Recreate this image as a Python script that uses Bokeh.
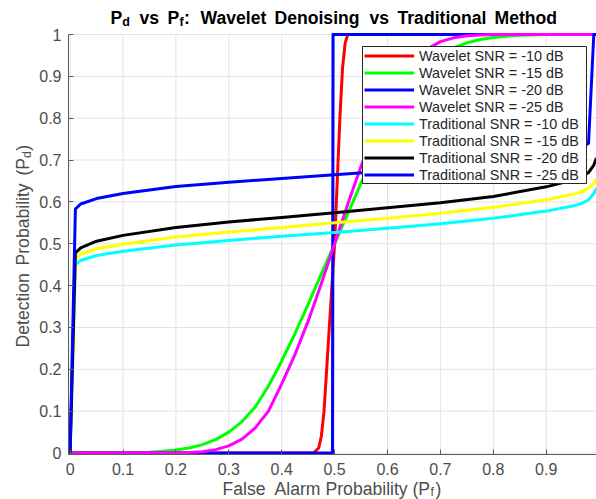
import math
from bokeh.plotting import figure
from bokeh.models import Label, Legend, LegendItem, FixedTicker, Range1d, BoxAnnotation
from bokeh.embed import file_html
from bokeh.resources import INLINE

# ---------------- data ----------------
# Wavelet SNR = -10 dB (red)
pf_w10 = [0, 0.46, 0.47, 0.475, 0.48, 0.485, 0.49, 0.5, 0.505, 0.51, 0.515, 0.52, 0.525, 1.0]
pd_w10 = [0, 0, 0.012, 0.04, 0.1, 0.2, 0.3, 0.5, 0.65, 0.8, 0.92, 0.98, 1.0, 1.0]

# Wavelet SNR = -15 dB (green)
pf_w15 = [0, 0.1, 0.125, 0.15, 0.175, 0.2, 0.225, 0.25, 0.275, 0.3, 0.325, 0.35, 0.375, 0.4,
          0.425, 0.45, 0.475, 0.5, 0.525, 0.55, 0.575, 0.6, 0.625, 0.65, 0.675, 0.7, 0.725,
          0.75, 0.775, 0.8, 0.825, 0.85, 0.9, 1.0]
pd_w15 = [0, 0.0003, 0.001, 0.002, 0.004, 0.007, 0.012, 0.02, 0.032, 0.05, 0.075, 0.11, 0.16, 0.22,
          0.285, 0.355, 0.428, 0.5, 0.572, 0.645, 0.715, 0.78, 0.84, 0.89, 0.925, 0.95, 0.968,
          0.98, 0.988, 0.993, 0.996, 0.998, 1.0, 1.0]

# Wavelet SNR = -20 dB (blue, step)
pf_w20 = [0, 0.496, 0.497, 1.0]
pd_w20 = [0, 0, 1.0, 1.0]

# Wavelet SNR = -25 dB (magenta)
pf_w25 = [0, 0.2, 0.225, 0.25, 0.275, 0.3, 0.325, 0.35, 0.375, 0.4, 0.425, 0.45, 0.475, 0.5,
          0.525, 0.55, 0.575, 0.6, 0.625, 0.65, 0.675, 0.7, 0.725, 0.75, 0.775, 0.8, 1.0]
pd_w25 = [0, 0.0003, 0.001, 0.003, 0.008, 0.017, 0.033, 0.06, 0.1, 0.165, 0.235, 0.315, 0.405, 0.5,
          0.595, 0.685, 0.765, 0.835, 0.893, 0.935, 0.965, 0.983, 0.992, 0.997, 0.999, 1.0, 1.0]

# Traditional method, common Pf grid
pf_trad = [0, 0.01, 0.02, 0.05, 0.1, 0.2, 0.3, 0.4, 0.5, 0.6, 0.7, 0.8, 0.9, 0.95, 0.97, 0.98, 0.99, 0.995]
pd_t10 = [0, 0.45, 0.46, 0.472, 0.482, 0.497, 0.508, 0.518, 0.527, 0.537, 0.548, 0.561, 0.578, 0.59, 0.598, 0.605, 0.62, 0.632]
pd_t15 = [0, 0.465, 0.475, 0.488, 0.499, 0.516, 0.528, 0.539, 0.55, 0.561, 0.573, 0.587, 0.605, 0.618, 0.626, 0.633, 0.645, 0.655]
pd_t20 = [0, 0.478, 0.49, 0.506, 0.52, 0.539, 0.552, 0.563, 0.574, 0.586, 0.598, 0.613, 0.636, 0.652, 0.662, 0.67, 0.688, 0.705]
pd_t25 = [0, 0.583, 0.595, 0.608, 0.62, 0.637, 0.647, 0.656, 0.665, 0.674, 0.684, 0.696, 0.712, 0.724, 0.732, 0.74, 1.0, 1.0]

series_labels = ["Wavelet SNR = -10 dB", "Wavelet SNR = -15 dB", "Wavelet SNR = -20 dB",
                 "Wavelet SNR = -25 dB", "Traditional SNR = -10 dB", "Traditional SNR = -15 dB",
                 "Traditional SNR = -20 dB", "Traditional SNR = -25 dB"]
series_colors = ["#ff0000", "#00ff00", "#0000ff", "#ff00ff", "#00ffff", "#ffff00", "#000000", "#0000ff"]

x_ticks = [0, 0.1, 0.2, 0.3, 0.4, 0.5, 0.6, 0.7, 0.8, 0.9, 1.0]
x_tick_labels = ["0", "0.1", "0.2", "0.3", "0.4", "0.5", "0.6", "0.7", "0.8", "0.9", "1"]
y_ticks = [0, 0.1, 0.2, 0.3, 0.4, 0.5, 0.6, 0.7, 0.8, 0.9, 1.0]
y_tick_labels = ["0", "0.1", "0.2", "0.3", "0.4", "0.5", "0.6", "0.7", "0.8", "0.9", "1"]

# ---------------- figure: frame covers the whole canvas ----------------
W, H = 596, 499
CX0, SX = 69.6, 529.0      # canvas x of Pf=0, pixels per unit
CY0, SY = 452.5, 418.5     # canvas y (from top) of Pd=0, pixels per unit
x_start = -CX0 / SX
x_end = (W - CX0) / SX
y_start = -(H - CY0) / SY
y_end = CY0 / SY

p = figure(width=W, height=H, output_backend="svg", toolbar_location=None, title=None,
           x_range=Range1d(x_start, x_end), y_range=Range1d(y_start, y_end), min_border=0)
p.outline_line_color = None
p.background_fill_color = "white"
p.border_fill_color = "white"

FONT = "Liberation Sans"
AX_COL = "#5a5a5a"
TXT_COL = "#4d4d4d"
AX_LOC = -0.003

for ax, ticks, labels in ((p.xaxis[0], x_ticks, x_tick_labels), (p.yaxis[0], y_ticks, y_tick_labels)):
    ax.ticker = FixedTicker(ticks=ticks)
    ax.major_label_overrides = {t: l for t, l in zip(ticks, labels)}
    ax.fixed_location = AX_LOC
    ax.bounds = (AX_LOC, 1.0)
    ax.major_tick_in = 5
    ax.major_tick_out = 0
    ax.minor_tick_in = 0
    ax.minor_tick_out = 0
    ax.axis_line_color = AX_COL
    ax.major_tick_line_color = AX_COL
    ax.major_label_text_font = FONT
    ax.major_label_text_font_size = "16px"
    ax.major_label_text_color = TXT_COL
p.xaxis[0].major_label_standoff = 9
p.yaxis[0].major_label_standoff = 7
p.xgrid.visible = False
p.ygrid.visible = False

# grid lines limited to the axes box
GRID_COL = "#e3e3e3"
p.segment(x0=x_ticks, y0=0, x1=x_ticks, y1=1.0, line_color=GRID_COL, line_width=1)
p.segment(x0=0, y0=y_ticks, x1=1.0, y1=y_ticks, line_color=GRID_COL, line_width=1)

# ---------------- lines ----------------
xs = [pf_w10, pf_w15, pf_w20, pf_w25, pf_trad, pf_trad, pf_trad, pf_trad]
ys = [pd_w10, pd_w15, pd_w20, pd_w25, pd_t10, pd_t15, pd_t20, pd_t25]
items = []
for x, y, lab, col in zip(xs, ys, series_labels, series_colors):
    r = p.line(x, y, line_color=col, line_width=3, line_join="round")
    items.append(LegendItem(label=lab, renderers=[r]))

# legend frame (white box with border), then the legend entries on top
LG_L, LG_R, LG_T, LG_B = 362, 586, 46, 183
p.add_layout(BoxAnnotation(left=LG_L, right=LG_R, top=H - LG_T, bottom=H - LG_B,
                           left_units="screen", right_units="screen",
                           top_units="screen", bottom_units="screen",
                           fill_color="white", fill_alpha=1.0,
                           line_color="#262626", line_width=1, line_alpha=1.0))

legend = Legend(items=items, location=(LG_L, H - LG_B - 2), margin=0, padding=2, spacing=0,
                label_height=17, glyph_height=17, glyph_width=50, label_standoff=5,
                label_text_font=FONT, label_text_font_size="14.4px", label_text_color="#262626",
                border_line_alpha=0.0, background_fill_alpha=0.0)
p.add_layout(legend)

# ---------------- texts with subscripts ----------------
def lab(cx, cy, text, size, bold=False, color="#000000"):
    p.add_layout(Label(x=cx, y=H - cy, x_units="screen", y_units="screen",
                       text=text, text_font=FONT, text_font_size=f"{size}px",
                       text_font_style="bold" if bold else "normal", text_color=color,
                       text_align="left", text_baseline="alphabetic"))

# title
TB = 17.5
lab(110, TB, "P", 17.6, True)
lab(121.7, TB + 4, "d", 12.5, True)
lab(139, TB, "vs", 17.6, True)
lab(167, TB, "P", 17.6, True)
lab(179, TB + 4, "f", 12.5, True)
lab(183.5, TB, ":", 17.6, True)
lab(200, TB, "Wavelet", 17.6, True)
lab(274, TB, "Denoising", 17.6, True)
lab(369, TB, "vs", 17.6, True)
lab(397, TB, "Traditional", 17.6, True)
lab(494, TB, "Method", 17.6, True)

# x label
XB = 488
lab(222, XB, "False", 17.6, color=TXT_COL)
lab(274, XB, "Alarm", 17.6, color=TXT_COL)
lab(325, XB, "Probability", 17.6, color=TXT_COL)
lab(412, XB, "(P", 17.6, color=TXT_COL)
lab(430, XB + 3, "f", 12.3, color=TXT_COL)
lab(435, XB, ")", 17.6, color=TXT_COL)

# y label (rotated)
YX = 22
A = math.pi / 2
def ylab(cy, text, size, dx=0):
    p.add_layout(Label(x=YX + dx, y=H - cy, x_units="screen", y_units="screen",
                       text=text, text_font=FONT, text_font_size=f"{size}px", text_color=TXT_COL,
                       angle=A, text_align="left", text_baseline="alphabetic"))
ylab(347, "Detection", 17.6)
ylab(265, "Probability", 17.6)
ylab(175, "(P", 17.6)
ylab(157.4, "d", 12.3, dx=4)
ylab(150.2, ")", 17.6)

open("out.html", "w").write(file_html(p, INLINE))
